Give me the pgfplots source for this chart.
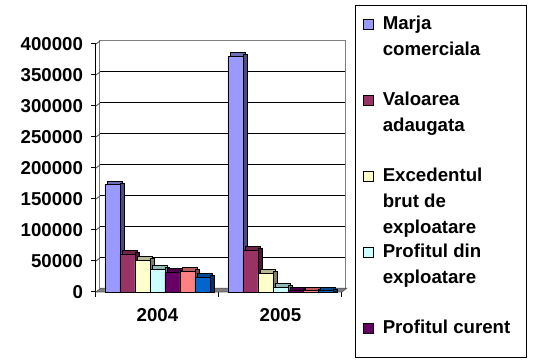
\documentclass[border=0pt]{standalone}
\usepackage{pgfplots}
\pgfplotsset{compat=1.18}
\usepackage{pgfplotstable}
\usepackage{fontspec}
\setmainfont{Liberation Sans}

\definecolor{c1}{HTML}{9999FF}
\definecolor{c2}{HTML}{993366}
\definecolor{c3}{HTML}{FFFFCC}
\definecolor{c4}{HTML}{CCFFFF}
\definecolor{c5}{HTML}{660066}
\definecolor{c6}{HTML}{FF8080}
\definecolor{c7}{HTML}{0066CC}

\pgfplotstableread{
x marja valoarea excedent profexpl profcur s6 s7
0 173000 60500 51000 36500 32500 33500 24000
1 380000 67000 30000 7500 2000 2000 2000
}\data

% #1 column, #2 colour, #3 front shift, #4 top shift, #5 side shift
\newcommand{\threedbar}[5]{%
  \addplot[ybar, forget plot, bar width=11.25pt, bar shift=#4, fill=#2!72!black, draw=black, line width=0.5pt] table[x=x, y expr=\thisrow{#1}+6000] {\data};
  \addplot[ybar, forget plot, bar width=3.5pt, bar shift=#5, fill=#2!50!black, draw=black, line width=0.5pt] table[x=x, y expr=\thisrow{#1}+3000] {\data};
  \addplot[ybar, bar width=11.25pt, bar shift=#3, fill=#2, draw=black, line width=0.5pt,
    legend image code/.code={\draw[fill=#2, draw=black, line width=0.6pt] (0pt,0pt) rectangle (7.5pt,7.5pt);}]
    table[x=x, y=#1] {\data};
}
\newcommand{\Lentry}[2]{\parbox[t][#1][t]{102pt}{\raggedright\strut #2}}
\newcommand{\tickfont}{\fontsize{14}{16}\selectfont\bfseries}

\begin{document}
\begin{tikzpicture}
\path[use as bounding box] (0,0) rectangle (399.75pt,272.25pt);
\begin{axis}[
  at={(72pt,53.25pt)}, anchor=south west,
  scale only axis, width=184.5pt, height=186pt,
  xmin=-0.5, xmax=1.5, ymin=0, ymax=400000,
  clip=false,
  axis x line=bottom, axis y line=left,
  axis line style={-, black, line width=0.75pt},
  every outer x axis line/.append style={-},
  every outer y axis line/.append style={-},
  xtick={0,1}, xticklabels={2004,2005},
  major x tick style={draw=none},
  minor xtick={-0.5,0.5,1.5},
  ytick={0,50000,100000,150000,200000,250000,300000,350000,400000},
  tick align=outside, major tick length=3.75pt, minor tick length=3.75pt,
  tick style={black, line width=0.75pt},
  ymajorgrids,
  major grid style={black, line width=0.75pt, xshift=3pt, yshift=2.25pt},
  scaled y ticks=false,
  /pgf/number format/assume math mode=true,
  every tick label/.append style={font=\tickfont},
  yticklabel style={font=\tickfont, /pgf/number format/fixed, /pgf/number format/1000 sep={}, xshift=-2.5pt},
  xticklabel style={font=\tickfont, yshift=-5pt},
  legend style={at={(1,1)}, anchor=north west, xshift=9.75pt, yshift=29.25pt,
    draw=black, line width=0.75pt, fill=white,
    inner xsep=5.6pt, inner ysep=4.55pt, row sep=0pt, column sep=6.75pt,
    font=\fontsize{14}{19.5}\selectfont\bfseries,
    cells={anchor=base west}, nodes={inner sep=0pt, text depth=}},
]
% back wall outline, tick connectors and floor
\draw[gray, line width=0.75pt] ([shift={(3pt,2.25pt)}]axis cs:-0.5,0) rectangle ([shift={(3pt,2.25pt)}]axis cs:1.5,400000);
\pgfplotsinvokeforeach{50000,100000,150000,200000,250000,300000,350000,400000}{
  \draw[black!70, line width=0.6pt] (axis cs:-0.5,#1) -- ++(3pt,2.25pt);
}
\fill[gray, draw=gray!70!black, line width=0.5pt] (axis cs:-0.5,0) -- (axis cs:1.5,0) -- ([shift={(3.5pt,2.8pt)}]axis cs:1.5,0) -- ([shift={(3.5pt,2.8pt)}]axis cs:-0.5,0) -- cycle;

\threedbar{marja}{c1}{-33.75pt}{-32pt}{-26.375pt}
\threedbar{valoarea}{c2}{-22.5pt}{-20.75pt}{-15.125pt}
\threedbar{excedent}{c3}{-11.25pt}{-9.5pt}{-3.875pt}
\threedbar{profexpl}{c4}{0pt}{1.75pt}{7.375pt}
\threedbar{profcur}{c5}{11.25pt}{13pt}{18.625pt}
\threedbar{s6}{c6}{22.5pt}{24.25pt}{29.875pt}
\threedbar{s7}{c7}{33.75pt}{35.5pt}{41.125pt}

\legend{{\Lentry{57pt}{Marja\\comerciala}},
        {\Lentry{57pt}{Valoarea\\adaugata}},
        {\Lentry{57pt}{Excedentul\\brut de\\exploatare}},
        {\Lentry{57pt}{Profitul din\\exploatare}},
        {\Lentry{27.1pt}{Profitul curent}}}
\end{axis}
\end{tikzpicture}
\end{document}
